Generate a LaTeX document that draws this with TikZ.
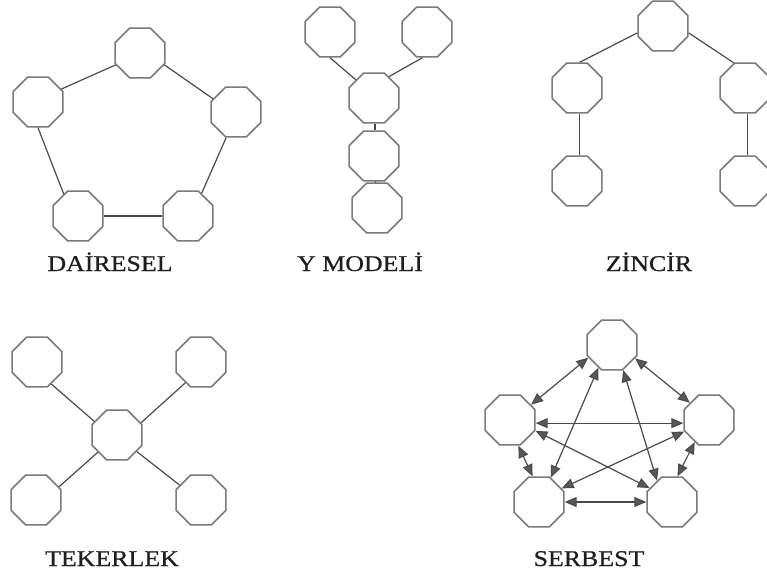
\documentclass[tikz,border=0pt]{standalone}
\usepackage{fontspec}
\setmainfont{Liberation Serif}
\usetikzlibrary{shapes.geometric,arrows.meta}
\definecolor{rim}{HTML}{7A7A7A}
\definecolor{wire}{HTML}{4A4A4A}
\definecolor{ink}{HTML}{1E1E1E}
\tikzset{
  oct/.style={draw=rim, line width=1.5pt, regular polygon, regular polygon sides=8,
              minimum size=54pt, inner sep=0pt, fill=white},
  link/.style={draw=wire, line width=1.2pt},
  both/.style={link, {Triangle[length=12pt,width=10pt,fill=gray!70!black]}-{Triangle[length=12pt,width=10pt,fill=gray!70!black]}},
  caption/.style={anchor=base, inner sep=0pt, text=ink,
                  font=\fontsize{22.5}{24}\selectfont\addfontfeatures{FakeBold=0.6}}
}
\newcommand{\wide}[1]{\scalebox{1.15}[1]{#1}}
\begin{document}
\begin{tikzpicture}[x=1pt,y=-1pt]
\useasboundingbox (0,0) rectangle (767,578);

% ---- DAİRESEL: ring of five ----
\node[oct] (d1) at (140,53) {};
\node[oct] (d2) at (38,102) {};
\node[oct] (d3) at (236,112) {};
\node[oct] (d4) at (78,216) {};
\node[oct] (d5) at (188,216) {};
\draw[link] (d2.29) -- (d1.-154);
\draw[link] (d1.-26) -- (d3.150);
\draw[link] (d2.south) -- (d4.123);
\draw[link] (d3.-111) -- (d5.59);
\draw[link] (d4.east) -- (d5.west);
\node[caption] (dl) at (110,271) {\wide{DAİRESEL}};

% ---- Y MODELİ ----
\node[oct] (y1) at (330,32) {};
\node[oct] (y2) at (427,32) {};
\node[oct] (y3) at (374,98) {};
\node[oct] (y4) at (374,156) {};
\node[oct] (y5) at (377,208) {};
\draw[link] (y1.south) -- (y3.135);
\draw[link] (y2.-100) -- (y3.55);
\draw[link] (y3.-88) -- (y4.88);
\draw[link] (y4.-85) -- (y5.95);
\node[caption] (yl) at (360,271) {\wide{Y MODELİ}};

% ---- ZİNCİR ----
\node[oct] (z1) at (663,26) {};
\node[oct] (z2) at (577,88) {};
\node[oct] (z3) at (745,88) {};
\node[oct] (z4) at (577,181) {};
\node[oct] (z5) at (745,181) {};
\draw[link] (z1.-165) -- (z2.84);
\draw[link] (z1.-15) -- (z3.114);
\draw[link] (z2.-85) -- (z4.85);
\draw[link] (z3.-85) -- (z5.85);
\node[caption] (zl) at (649,271) {\wide{ZİNCİR}};

% ---- TEKERLEK: hub and four spokes ----
\node[oct] (t0) at (117,435) {};
\node[oct] (t1) at (37,362) {};
\node[oct] (t2) at (201,362) {};
\node[oct] (t3) at (36,500) {};
\node[oct] (t4) at (201,500) {};
\draw[link] (t1.-57) -- (t0.149);
\draw[link] (t2.-127) -- (t0.27);
\draw[link] (t3.30) -- (t0.-138);
\draw[link] (t4.145) -- (t0.-40);
\node[caption] (tl) at (112,566) {\wide{TEKERLEK}};

% ---- SERBEST: every pair linked both ways ----
\node[oct] (s1) at (612,345) {};
\node[oct] (s2) at (510,420) {};
\node[oct] (s3) at (709,420) {};
\node[oct] (s4) at (539,502) {};
\node[oct] (s5) at (672,502) {};
\draw[both] (s1.-152) -- (s2.36);
\draw[both] (s1.-30) -- (s3.138);
\draw[both] (s2.-7) -- (s3.-173);
\draw[both] (s2.-72) -- (s4.104);
\draw[both] (s3.-123) -- (s5.78);
\draw[both] (s4.east) -- (s5.west);
\draw[both] (s1.-121) -- (s4.64);
\draw[both] (s1.-66) -- (s5.125);
\draw[both] (s2.-23) -- (s5.148);
\draw[both] (s3.-155) -- (s4.31);
\node[caption] (sl) at (589,566) {\wide{SERBEST}};
\end{tikzpicture}
\end{document}
